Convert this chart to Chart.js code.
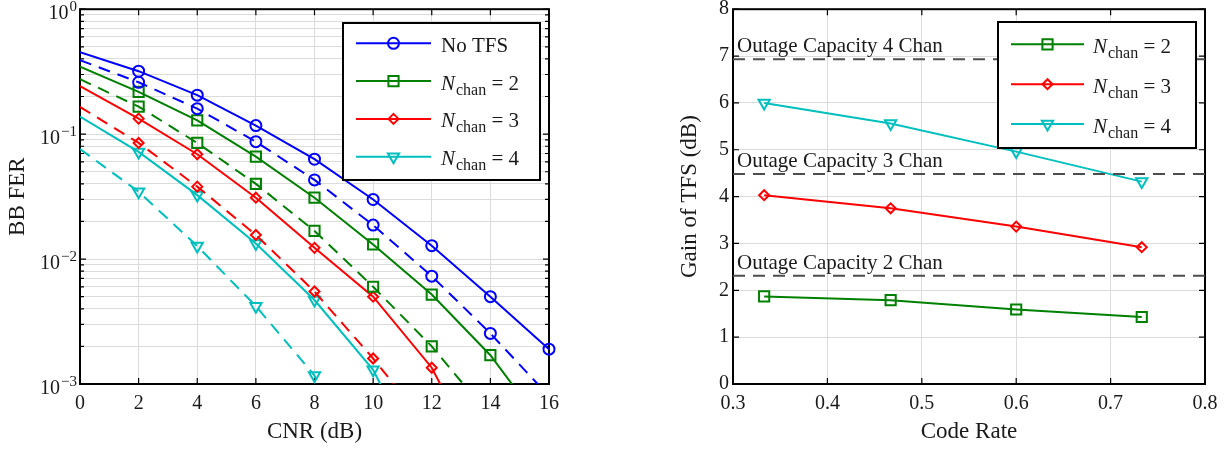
<!DOCTYPE html>
<html>
<head>
<meta charset="utf-8">
<title>BB FER and TFS gain</title>
<script src="https://cdn.jsdelivr.net/npm/chart.js@4.4.1/dist/chart.umd.min.js"></script>
<style>
  body { margin: 0; background: #fff; }
  .panel { position: absolute; top: 0; width: 614px; height: 449px; }
  #ferPanel { left: 0; }
  #gainPanel { left: 614px; }
</style>
</head>
<body>
<div class="panel" id="ferPanel"><canvas id="ferChart"></canvas></div>
<div class="panel" id="gainPanel"><canvas id="gainChart"></canvas></div>
<script>
// left panel: BB FER vs CNR (solid and dashed curve for each case)
const cnr = [0, 2, 4, 6, 8, 10, 12, 14, 16]
const ferNoTfs = [0.453, 0.319, 0.205, 0.117, 0.063, 0.030, 0.0128, 0.0050, 0.0019]
const ferNoTfsDash = [0.391, 0.26, 0.16, 0.087, 0.043, 0.0187, 0.0073, 0.00254, 0.0008]
const ferChan2 = [0.346, 0.218, 0.129, 0.066, 0.031, 0.0131, 0.0052, 0.0017, 0.0004]
const ferChan2Dash = [0.275, 0.166, 0.085, 0.040, 0.0168, 0.0060, 0.0020, 0.00055, null]
const ferChan3 = [0.242, 0.133, 0.069, 0.031, 0.0123, 0.0050, 0.00135, 0.00017, null]
const ferChan3Dash = [0.165, 0.085, 0.038, 0.0156, 0.0055, 0.0016, 0.00042, null, null]
const ferChan4 = [0.138, 0.072, 0.0325, 0.0133, 0.0047, 0.0013, 0.00015, null, null]
const ferChan4Dash = [0.076, 0.0346, 0.0127, 0.0042, 0.00117, 0.0001, null, null, null]
const cnrTicks = [0, 2, 4, 6, 8, 10, 12, 14, 16]
const ferDecades = [0.001, 0.01, 0.1, 1]

// right panel: gain of TFS vs code rate
const codeRates = [0.333, 0.467, 0.6, 0.733]
const gainChan2 = [1.87, 1.79, 1.59, 1.43]
const gainChan3 = [4.03, 3.75, 3.36, 2.92]
const gainChan4 = [6.0, 5.56, 4.96, 4.32]
const outageCapacity = [2.31, 4.48, 6.93]
const outageLabels = ['Outage Capacity 2 Chan', 'Outage Capacity 3 Chan', 'Outage Capacity 4 Chan']
const rateTicks = [0.3, 0.4, 0.5, 0.6, 0.7, 0.8]
const gainTicks = [0, 1, 2, 3, 4, 5, 6, 7, 8]

const legendLabels = ['No TFS', 'N_chan = 2', 'N_chan = 3', 'N_chan = 4']

const FONT = '"Liberation Serif", "Times New Roman", serif'
const INK = '#1a1a1a'
const GRID = '#dcdcdc'
const DASH = [12, 8]
const blue = '#0000ff', green = '#008000', red = '#ff0000', cyan = '#00bfbf'

// log ticks: every 1..9 multiple inside each decade
const ferTicks = []
ferDecades.forEach((d, i) => {
  if (i === ferDecades.length - 1) { ferTicks.push(d); return }
  for (let m = 1; m < 10; m++) ferTicks.push(d * m)
})

function fitBox(w, h) {
  return scale => {
    if (w) scale.width = w
    if (h) scale.height = h
    scale.paddingLeft = scale.paddingRight = scale.paddingTop = scale.paddingBottom = 0
  }
}

function drawMarker(ctx, style, x, y, r) {
  ctx.beginPath()
  if (style === 'circle') {
    ctx.arc(x, y, r, 0, Math.PI * 2)
  } else if (style === 'rect') {
    const s = r * Math.SQRT1_2
    ctx.rect(x - s, y - s, 2 * s, 2 * s)
  } else if (style === 'rectRot') {
    ctx.moveTo(x, y - r)
    ctx.lineTo(x + r, y)
    ctx.lineTo(x, y + r)
    ctx.lineTo(x - r, y)
    ctx.closePath()
  } else {
    // triangle pointing down
    ctx.moveTo(x, y + r)
    ctx.lineTo(x - r * 0.866, y - r / 2)
    ctx.lineTo(x + r * 0.866, y - r / 2)
    ctx.closePath()
  }
  ctx.stroke()
}

// "N_chan = 2" -> italic N, subscript chan, rest upright
function drawLabel(ctx, text, x, y) {
  const parts = text.split('_')
  if (parts.length === 1) {
    ctx.font = '21px ' + FONT
    ctx.fillText(text, x, y)
    return
  }
  ctx.font = 'italic 21px ' + FONT
  ctx.fillText(parts[0], x, y)
  x += ctx.measureText(parts[0]).width + 1
  const sub = parts[1].split(' ')[0]
  const rest = parts[1].slice(sub.length)
  ctx.font = '16px ' + FONT
  ctx.fillText(sub, x, y + 5)
  x += ctx.measureText(sub).width
  ctx.font = '21px ' + FONT
  ctx.fillText(rest, x, y)
}

const framePlugin = {
  id: 'frame',
  beforeDatasetsDraw(chart, args, o) {
    const { ctx, chartArea: a } = chart
    const x = chart.scales.x, y = chart.scales.y
    ctx.save()
    ctx.strokeStyle = '#000'
    ctx.lineWidth = 1.2
    ctx.beginPath()
    x.ticks.forEach(t => {
      const px = x.getPixelForValue(t.value)
      ctx.moveTo(px, a.bottom); ctx.lineTo(px, a.bottom - 6)
      ctx.moveTo(px, a.top); ctx.lineTo(px, a.top + 6)
    })
    y.ticks.forEach(t => {
      const py = y.getPixelForValue(t.value)
      let len = 6
      if (o.logLabels) {
        const l = Math.log10(t.value)
        if (Math.abs(l - Math.round(l)) > 1e-6) len = 4
      }
      ctx.moveTo(a.left, py); ctx.lineTo(a.left + len, py)
      ctx.moveTo(a.right, py); ctx.lineTo(a.right - len, py)
    })
    ctx.stroke()
    ctx.lineWidth = 2
    ctx.strokeRect(a.left, a.top, a.right - a.left, a.bottom - a.top)

    if (o.logLabels) {
      ctx.fillStyle = INK
      ctx.textAlign = 'right'
      ctx.textBaseline = 'middle'
      y.ticks.forEach(t => {
        const l = Math.log10(t.value)
        const e = Math.round(l)
        if (Math.abs(l - e) > 1e-6) return
        const py = y.getPixelForValue(t.value)
        const exp = e < 0 ? '\u2212' + (-e) : String(e)
        ctx.font = '15px ' + FONT
        const ew = ctx.measureText(exp).width
        const right = a.left - 3
        ctx.fillText(exp, right, py - 2)
        ctx.font = '20px ' + FONT
        ctx.fillText('10', right - ew - 1, py + 4.5)
      })
    }
    ctx.restore()
  }
}

const boxLegend = {
  id: 'boxLegend',
  afterDatasetsDraw(chart, args, o) {
    const ctx = chart.ctx
    ctx.save()
    ctx.fillStyle = '#fff'
    ctx.fillRect(o.x, o.y, o.w, o.h)
    ctx.lineWidth = 2
    ctx.strokeStyle = '#000'
    ctx.strokeRect(o.x, o.y, o.w, o.h)
    o.entries.forEach((idx, i) => {
      const ds = chart.data.datasets[idx]
      const y = o.rowY + i * o.rowStep
      ctx.setLineDash([])
      ctx.strokeStyle = ds.borderColor
      ctx.lineWidth = 2
      ctx.beginPath()
      ctx.moveTo(o.lineX0, y)
      ctx.lineTo(o.lineX1, y)
      ctx.stroke()
      drawMarker(ctx, ds.pointStyle, (o.lineX0 + o.lineX1) / 2, y, ds.markerSize)
      ctx.fillStyle = INK
      ctx.textAlign = 'left'
      ctx.textBaseline = 'alphabetic'
      drawLabel(ctx, ds.label, o.textX, y + 8.5)
    })
    ctx.restore()
  }
}

// text sitting on top of each outage capacity line
const lineNotes = {
  id: 'lineNotes',
  afterDatasetsDraw(chart) {
    const ctx = chart.ctx
    const a = chart.chartArea
    ctx.save()
    ctx.fillStyle = INK
    ctx.font = '21px ' + FONT
    ctx.textAlign = 'left'
    ctx.textBaseline = 'alphabetic'
    chart.data.datasets.forEach(ds => {
      if (!ds.note) return
      const py = chart.scales.y.getPixelForValue(ds.data[0].y)
      ctx.fillText(ds.note, a.left + 4, py - 7)
    })
    ctx.restore()
  }
}

function curve(xs, ys, label, color, marker, size, dashed, skipFirst) {
  return {
    label: label,
    data: xs.map((v, i) => ({ x: v, y: ys[i] })),
    borderColor: color,
    borderWidth: 2,
    borderDash: dashed ? DASH : [],
    pointStyle: marker,
    pointRotation: marker === 'triangle' ? 180 : 0,
    markerSize: size,
    pointRadius: c => (skipFirst && c.dataIndex === 0 ? 0 : size),
    pointHoverRadius: c => (skipFirst && c.dataIndex === 0 ? 0 : size),
    pointBorderWidth: 2,
    pointBorderColor: color,
    pointBackgroundColor: 'rgba(0,0,0,0)',
    tension: 0,
    fill: false,
    clip: { left: 0, top: 0, right: false, bottom: 0 }
  }
}

function axis(extra) {
  return Object.assign({
    type: 'linear',
    grid: { color: GRID, lineWidth: 1, drawTicks: false },
    border: { display: false },
    ticks: { color: INK, font: { family: FONT, size: 20 } }
  }, extra)
}

const titleFont = { family: FONT, size: 23 }

new Chart(document.getElementById('ferChart'), {
  type: 'line',
  data: {
    datasets: [
      curve(cnr, ferNoTfs, legendLabels[0], blue, 'circle', 5.5, false, true),
      curve(cnr, ferNoTfsDash, legendLabels[0], blue, 'circle', 5.5, true, true),
      curve(cnr, ferChan2, legendLabels[1], green, 'rect', 7.2, false, true),
      curve(cnr, ferChan2Dash, legendLabels[1], green, 'rect', 7.2, true, true),
      curve(cnr, ferChan3, legendLabels[2], red, 'rectRot', 5, false, true),
      curve(cnr, ferChan3Dash, legendLabels[2], red, 'rectRot', 5, true, true),
      curve(cnr, ferChan4, legendLabels[3], cyan, 'triangle', 6.5, false, true),
      curve(cnr, ferChan4Dash, legendLabels[3], cyan, 'triangle', 6.5, true, true)
    ]
  },
  options: {
    responsive: true,
    maintainAspectRatio: false,
    animation: false,
    devicePixelRatio: 1,
    events: [],
    layout: { padding: { left: 0, top: 9, right: 65, bottom: 0 } },
    plugins: {
      legend: { display: false },
      tooltip: { enabled: false },
      frame: { logLabels: true },
      boxLegend: {
        x: 343, y: 23, w: 197, h: 157,
        rowY: 43.3, rowStep: 37.8,
        lineX0: 356, lineX1: 431, textX: 441,
        entries: [0, 2, 4, 6]
      }
    },
    scales: {
      x: axis({
        min: 0, max: 16,
        afterBuildTicks: s => { s.ticks = cnrTicks.map(v => ({ value: v })) },
        afterFit: fitBox(0, 65),
        ticks: { color: INK, font: { family: FONT, size: 20 }, padding: 8, maxRotation: 0 },
        title: { display: true, text: 'CNR (dB)', color: INK, font: titleFont, padding: { top: 0, bottom: 3 } }
      }),
      y: axis({
        type: 'logarithmic',
        min: 0.001, max: 1,
        afterBuildTicks: s => { s.ticks = ferTicks.map(v => ({ value: v })) },
        afterFit: fitBox(80, 0),
        ticks: { display: false },
        title: { display: true, text: 'BB FER', color: INK, font: titleFont, padding: { top: 4, bottom: 0 } }
      })
    }
  },
  plugins: [framePlugin, boxLegend]
})

const outageSets = outageCapacity.map((v, i) => ({
  label: outageLabels[i],
  note: outageLabels[i],
  data: [{ x: rateTicks[0], y: v }, { x: rateTicks[rateTicks.length - 1], y: v }],
  borderColor: '#4d4d4d',
  borderWidth: 2,
  borderDash: DASH,
  pointRadius: 0,
  pointHoverRadius: 0,
  tension: 0,
  fill: false
}))

new Chart(document.getElementById('gainChart'), {
  type: 'line',
  data: {
    datasets: outageSets.concat([
      curve(codeRates, gainChan2, legendLabels[1], green, 'rect', 7.2, false, false),
      curve(codeRates, gainChan3, legendLabels[2], red, 'rectRot', 5, false, false),
      curve(codeRates, gainChan4, legendLabels[3], cyan, 'triangle', 6.5, false, false)
    ])
  },
  options: {
    responsive: true,
    maintainAspectRatio: false,
    animation: false,
    devicePixelRatio: 1,
    events: [],
    layout: { padding: { left: 0, top: 9, right: 23, bottom: 0 } },
    plugins: {
      legend: { display: false },
      tooltip: { enabled: false },
      frame: { logLabels: false },
      boxLegend: {
        x: 384, y: 22, w: 198, h: 126,
        rowY: 44.3, rowStep: 39.9,
        lineX0: 397, lineX1: 470, textX: 479,
        entries: [3, 4, 5]
      }
    },
    scales: {
      x: axis({
        min: 0.3, max: 0.8,
        afterBuildTicks: s => { s.ticks = rateTicks.map(v => ({ value: v })) },
        afterFit: fitBox(0, 65),
        ticks: { color: INK, font: { family: FONT, size: 20 }, padding: 8, maxRotation: 0, callback: v => v.toFixed(1) },
        title: { display: true, text: 'Code Rate', color: INK, font: titleFont, padding: { top: 0, bottom: 3 } }
      }),
      y: axis({
        min: 0, max: 8,
        afterBuildTicks: s => { s.ticks = gainTicks.map(v => ({ value: v })) },
        afterFit: fitBox(119, 0),
        ticks: { color: INK, font: { family: FONT, size: 20 }, padding: 4, callback: v => String(v) },
        title: { display: true, text: 'Gain of TFS (dB)', color: INK, font: titleFont, padding: { top: 62, bottom: 0 } }
      })
    }
  },
  plugins: [framePlugin, lineNotes, boxLegend]
})
</script>
</body>
</html>
